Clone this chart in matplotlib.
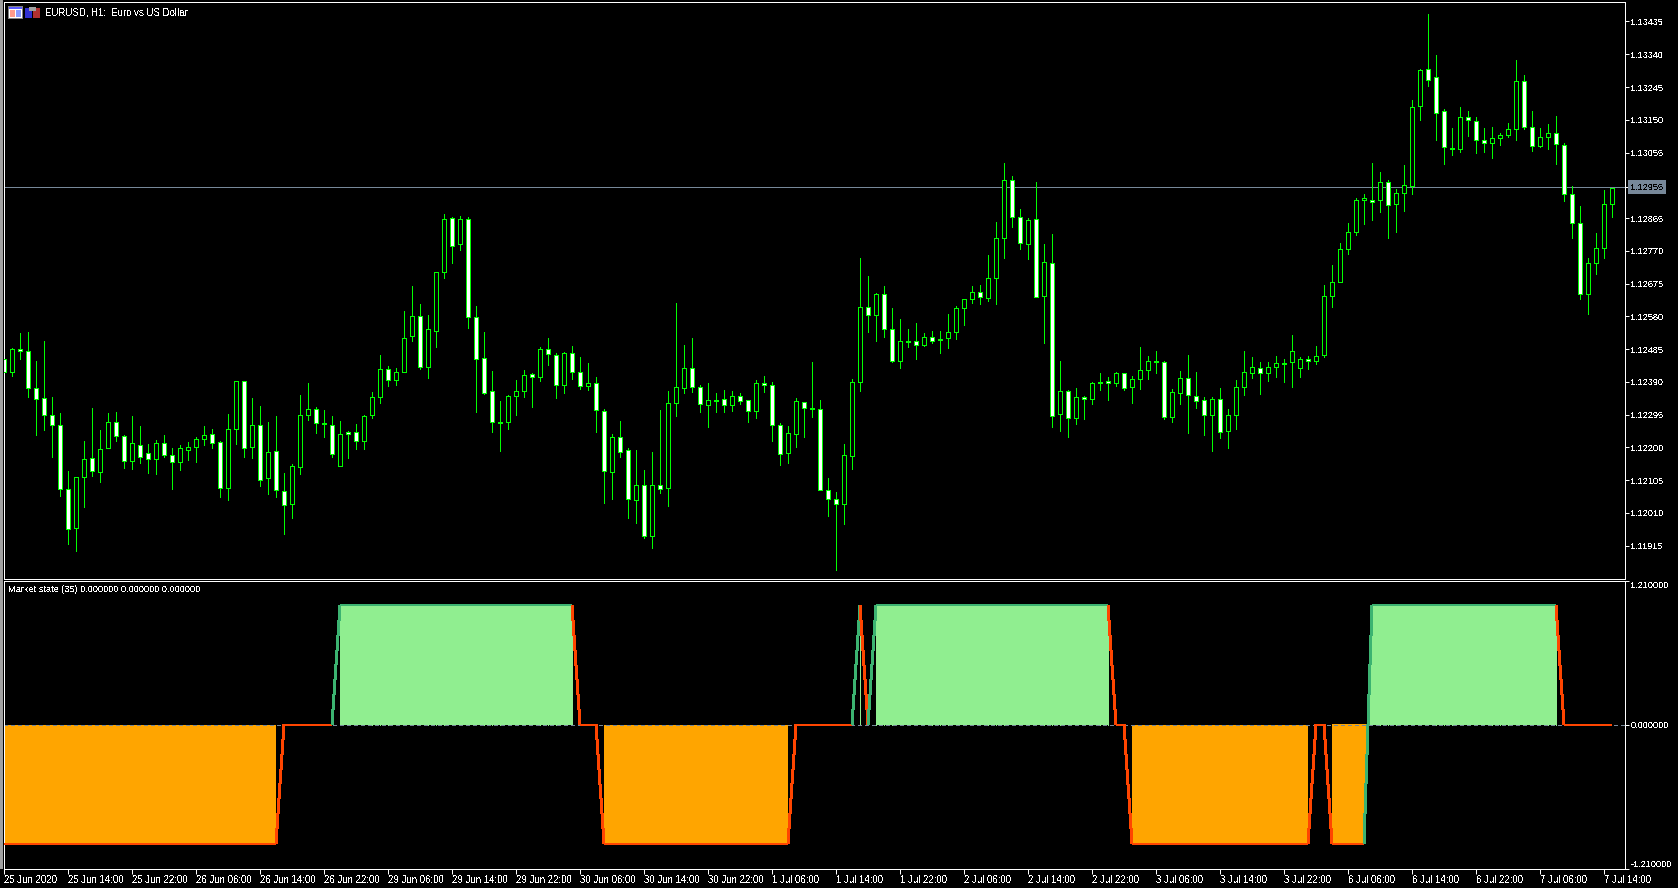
import numpy as np
from matplotlib import pyplot as plt
from matplotlib.collections import LineCollection
from matplotlib.patches import Rectangle

plt.rcParams["font.family"] = ["Liberation Sans", "DejaVu Sans"]
plt.rcParams["text.antialiased"] = False

W, H = 1678, 888
DPI = 100
FONT = 6.6
GREEN = "#00ff00"
SLATE = "#778899"

# prices are in points (1e-5) above 1.12000
BASE = 1.12
bid = 955

opens = [
    455, 420, 484, 479, 371, 342, 293, 264, 79, -34,
    113, 168, 128, 197, 273, 232, 160, 206, 183, 166,
    212, 177, 157, 192, 200, 224, 238, 215, 82, 253,
    392, 200, 264, 110, 189, 73, 35, 142, 293, 311,
    270, 264, 145, 244, 244, 218, 293, 345, 426, 395,
    418, 522, 580, 432, 539, 708, 864, 789, 861, 577,
    458, 363, 273, 273, 348, 363, 412, 403, 484, 467,
    380, 473, 418, 377, 386, 305, 128, 229, 192, 47,
    90, -58, 90, 82, 328, 371, 429, 374, 322, 337,
    339, 322, 348, 337, 305, 386, 380, 264, 183, 238,
    331, 313, 311, 76, 50, 35, 174, 389, 606, 583,
    644, 542, 450, 508, 508, 496, 519, 513, 516, 534,
    603, 629, 650, 632, 690, 806, 974, 867, 789, 861,
    638, 734, 296, 363, 284, 345, 339, 389, 392, 386,
    415, 374, 397, 424, 450, 447, 287, 357, 400, 348,
    337, 293, 339, 247, 293, 374, 415, 429, 415, 432,
    444, 447, 429, 455, 452, 467, 638, 681, 774, 826,
    916, 916, 916, 971, 905, 939, 957, 1191, 1296, 1273,
    1174, 1067, 1064, 1157, 1145, 1090, 1084, 1096, 1105, 1122,
    1261, 1128, 1073, 1099, 1113, 1078, 936, 852, 646, 736,
    777, 905,
]
highs = [
    455, 487, 531, 535, 450, 508, 345, 299, 131, 113,
    218, 313, 251, 299, 302, 235, 290, 262, 210, 221,
    235, 197, 206, 215, 229, 262, 253, 218, 296, 392,
    392, 342, 319, 273, 290, 125, 151, 351, 386, 316,
    308, 290, 276, 247, 267, 293, 360, 467, 435, 429,
    595, 668, 616, 583, 708, 877, 867, 870, 867, 609,
    534, 421, 334, 351, 395, 424, 415, 490, 516, 473,
    476, 493, 461, 444, 403, 311, 238, 276, 197, 192,
    134, 186, 308, 363, 618, 496, 516, 380, 386, 357,
    366, 363, 357, 337, 395, 406, 389, 270, 261, 342,
    331, 447, 337, 111, 70, 209, 397, 748, 696, 647,
    667, 603, 571, 542, 560, 531, 539, 539, 586, 609,
    629, 668, 670, 757, 855, 1026, 986, 890, 864, 971,
    789, 818, 450, 366, 371, 348, 389, 415, 403, 418,
    415, 406, 490, 464, 479, 450, 368, 421, 467, 418,
    345, 345, 371, 311, 395, 481, 461, 447, 447, 464,
    455, 525, 461, 464, 493, 671, 729, 794, 852, 922,
    934, 1026, 1000, 974, 948, 1018, 1206, 1296, 1456, 1339,
    1180, 1125, 1186, 1174, 1157, 1125, 1128, 1113, 1142, 1322,
    1281, 1174, 1125, 1139, 1160, 1084, 957, 899, 748, 821,
    945, 953,
]
lows = [
    420, 407, 456, 346, 236, 251, 172, 59, -80, -100,
    27, 117, 100, 197, 219, 140, 137, 155, 126, 123,
    172, 80, 135, 164, 158, 207, 198, 56, 48, 210,
    172, 169, 88, 65, 56, -51, -4, 123, 280, 242,
    230, 172, 145, 169, 196, 196, 285, 329, 378, 381,
    418, 509, 427, 401, 491, 691, 735, 772, 546, 303,
    355, 245, 190, 254, 294, 346, 317, 393, 439, 343,
    358, 398, 369, 367, 245, 39, 51, 172, -5, -19,
    -62, -91, 68, 30, 291, 358, 361, 303, 259, 303,
    303, 306, 326, 274, 285, 361, 219, 149, 155, 201,
    230, 288, 76, 1, -156, -22, 138, 364, 535, 508,
    520, 448, 430, 491, 456, 494, 503, 474, 488, 514,
    555, 619, 616, 624, 616, 749, 839, 775, 746, 635,
    503, 259, 248, 230, 268, 282, 326, 367, 338, 378,
    367, 329, 369, 398, 416, 282, 274, 326, 242, 314,
    236, 190, 227, 198, 254, 352, 401, 356, 393, 404,
    390, 375, 404, 427, 442, 463, 607, 681, 762, 816,
    848, 859, 882, 807, 824, 885, 935, 1149, 1248, 1091,
    1021, 1048, 1056, 1103, 1053, 1056, 1039, 1076, 1100, 1091,
    1123, 1059, 1071, 1065, 1021, 914, 807, 630, 587, 702,
    748, 867,
]
closes = [
    420, 484, 479, 371, 339, 293, 264, 79, -37, 113,
    166, 131, 195, 273, 232, 160, 212, 171, 166, 212,
    177, 157, 197, 200, 224, 235, 212, 82, 253, 392,
    197, 264, 105, 186, 76, 32, 145, 293, 311, 270,
    267, 180, 238, 238, 218, 290, 345, 426, 395, 418,
    516, 580, 432, 542, 708, 861, 783, 861, 577, 455,
    359, 273, 272, 348, 363, 409, 403, 484, 470, 380,
    473, 418, 377, 386, 308, 131, 229, 186, 50, 90,
    -58, 90, 79, 328, 374, 429, 374, 325, 337, 336,
    322, 348, 334, 305, 386, 380, 264, 180, 241, 334,
    313, 311, 76, 50, 35, 177, 389, 606, 583, 644,
    542, 452, 508, 507, 496, 519, 510, 511, 534, 603,
    629, 650, 635, 690, 806, 974, 867, 794, 858, 635,
    739, 290, 363, 284, 345, 339, 386, 386, 386, 415,
    371, 397, 424, 450, 447, 287, 360, 400, 351, 334,
    293, 339, 244, 293, 374, 418, 432, 415, 432, 444,
    443, 481, 455, 450, 464, 638, 681, 774, 826, 916,
    922, 913, 971, 902, 939, 960, 1186, 1293, 1264, 1171,
    1070, 1064, 1157, 1148, 1090, 1084, 1096, 1105, 1122, 1261,
    1128, 1073, 1099, 1113, 1081, 936, 852, 644, 736, 777,
    905, 953,
]

# indicator value per bar
state = [
    -1, -1, -1, -1, -1, -1, -1, -1, -1, -1,
    -1, -1, -1, -1, -1, -1, -1, -1, -1, -1,
    -1, -1, -1, -1, -1, -1, -1, -1, -1, -1,
    -1, -1, -1, -1, -1, 0, 0, 0, 0, 0,
    0, 0, 1, 1, 1, 1, 1, 1, 1, 1,
    1, 1, 1, 1, 1, 1, 1, 1, 1, 1,
    1, 1, 1, 1, 1, 1, 1, 1, 1, 1,
    1, 1, 0, 0, 0, -1, -1, -1, -1, -1,
    -1, -1, -1, -1, -1, -1, -1, -1, -1, -1,
    -1, -1, -1, -1, -1, -1, -1, -1, -1, 0,
    0, 0, 0, 0, 0, 0, 0, 1, 0, 1,
    1, 1, 1, 1, 1, 1, 1, 1, 1, 1,
    1, 1, 1, 1, 1, 1, 1, 1, 1, 1,
    1, 1, 1, 1, 1, 1, 1, 1, 1, 0,
    0, -1, -1, -1, -1, -1, -1, -1, -1, -1,
    -1, -1, -1, -1, -1, -1, -1, -1, -1, -1,
    -1, -1, -1, -1, 0, 0, -1, -1, -1, -1,
    -1, 1, 1, 1, 1, 1, 1, 1, 1, 1,
    1, 1, 1, 1, 1, 1, 1, 1, 1, 1,
    1, 1, 1, 1, 1, 0, 0, 0, 0, 0,
    0, 0,
]

price_ticks = [
    1.13435, 1.13340, 1.13245, 1.13150, 1.13055, 1.12865, 1.12770, 1.12675,
    1.12580, 1.12485, 1.12390, 1.12295, 1.12200, 1.12105, 1.12010, 1.11915,
]
time_labels = [
    "25 Jun 2020", "25 Jun 14:00", "25 Jun 22:00", "26 Jun 06:00", "26 Jun 14:00",
    "26 Jun 22:00", "29 Jun 06:00", "29 Jun 14:00", "29 Jun 22:00", "30 Jun 06:00",
    "30 Jun 14:00", "30 Jun 22:00", "1 Jul 06:00", "1 Jul 14:00", "1 Jul 22:00",
    "2 Jul 06:00", "2 Jul 14:00", "2 Jul 22:00", "3 Jul 06:00", "3 Jul 14:00",
    "3 Jul 22:00", "6 Jul 06:00", "6 Jul 14:00", "6 Jul 22:00", "7 Jul 06:00",
    "7 Jul 14:00",
]

assert len(opens) == len(highs) == len(lows) == len(closes) == len(state) == 202


def pane(left, top, right, bottom):
    ax = fig.add_axes(
        [left / W, 1 - bottom / H, (right - left) / W, (bottom - top) / H],
        facecolor="black",
    )
    for s in ax.spines.values():
        s.set_color("white")
        s.set_linewidth(0.72)
    ax.set_xlim(0, (right - left) / 8)
    return ax


fig = plt.figure(figsize=(W / DPI, H / DPI), dpi=DPI, facecolor="black")
ax_price = pane(4, 2.5, 1625, 578.5)
ax_state = pane(4, 580.5, 1625, 868.5)

x = np.arange(len(opens))
o = BASE + np.array(opens) * 1e-5
h = BASE + np.array(highs) * 1e-5
l = BASE + np.array(lows) * 1e-5
c = BASE + np.array(closes) * 1e-5
bid_price = BASE + bid * 1e-5

# price pane, ylim set so that 2.898 points make one pixel
ax_price.set_ylim(1.118200, 1.134900)
ax_price.axhline(bid_price, color=SLATE, lw=0.72, zorder=1, antialiased=False)
ax_price.vlines(x, l, h, color=GREEN, lw=0.72, zorder=2, antialiased=False)
ax_price.bar(
    x,
    np.abs(c - o),
    bottom=np.minimum(o, c),
    width=0.5,
    color=np.where(c > o, "black", "white"),
    edgecolor=GREEN,
    linewidth=0.72,
    antialiased=False,
    zorder=3,
)
ax_price.set_xticks([])
ax_price.yaxis.tick_right()
ax_price.set_yticks(price_ticks + [bid_price])
ax_price.set_yticklabels([f"{p:.5f}" for p in price_ticks] + [""])
ax_price.tick_params(
    axis="y", colors="white", length=2.88, width=0.72, pad=1, labelsize=FONT
)
ax_price.annotate(
    f"{bid_price:.5f}",
    xy=(1, bid_price),
    xycoords=ax_price.get_yaxis_transform(),
    xytext=(5.5, 0),
    textcoords="offset pixels",
    va="center",
    color="black",
    fontsize=FONT,
    bbox=dict(boxstyle="square,pad=0.3", fc=SLATE, ec="none"),
)

# indicator pane
s = np.array(state, dtype=float)
seg = np.stack([np.column_stack([x[:-1], s[:-1]]), np.column_stack([x[1:], s[1:]])], axis=1)
seg_colors = ["#3cb371" if v > 0 else "#ff4500" for v in s[1:]]

# the fill crosses zero only where the state flips straight from -1 to +1
flip = np.where(s[:-1] * s[1:] < 0)[0] + 1
xf = np.insert(x.astype(float), flip, x[flip] - 0.5)
sf = np.insert(s, flip, 0.0)
crossing = np.isin(np.arange(len(xf)), flip + np.arange(len(flip)))

ax_state.set_ylim(-1.21, 1.21)
ax_state.fill_between(xf, sf, 0, where=(sf < 0) | crossing, color="#ffa500", lw=0, antialiased=False, zorder=1)
ax_state.fill_between(xf, sf, 0, where=(sf > 0) | crossing, color="#90ee90", lw=0, antialiased=False, zorder=1)
ax_state.vlines(x[s > 0], 0, s[s > 0], color="#90ee90", lw=0.72, antialiased=False, zorder=1)
ax_state.axhline(0, color=SLATE, lw=0.72, ls=(0, (3, 3)), zorder=2, antialiased=False)
ax_state.add_collection(LineCollection(seg, colors=seg_colors, linewidths=1.44, antialiased=False, zorder=3))

ax_state.set_xticks(x[::8][: len(time_labels)])
ax_state.set_xticklabels(time_labels, ha="left")
ax_state.yaxis.tick_right()
ax_state.set_yticks([-1.21, 0, 1.21])
ax_state.set_yticklabels(["-1.210000", "0.000000", "1.210000"])
ax_state.tick_params(axis="x", colors="white", length=3.6, width=0.72, pad=1, labelsize=6.9)
ax_state.tick_params(axis="y", colors="white", length=2.88, width=0.72, pad=1, labelsize=FONT)
labels = ax_state.get_yticklabels()
labels[0].set_va("bottom")
labels[2].set_va("top")

# window furniture, in pixels of the picture
over = fig.add_axes([0, 0, 1, 1], zorder=5)
over.set_xlim(0, W)
over.set_ylim(H, 0)
over.axis("off")
over.patch.set_alpha(0)
over.add_patch(Rectangle((0, 0), 2.5, 869, fc="#a0a0a0", ec="none"))
icon_rects = [
    (8, 6, 15, 13, "#808080"), (9, 7, 13, 11, "#ffffff"), (9, 7, 13, 2, "#5a5aff"),
    (10, 10, 5, 7, "#ff9a8a"), (16, 10, 5, 7, "#8a9aff"),
    (25, 8, 7, 10, "#3030d0"), (33, 8, 7, 10, "#b03030"), (29, 7, 7, 4, "#a0a0a0"),
]
for ix, iy, iw, ih, col in icon_rects:
    over.add_patch(Rectangle((ix, iy), iw, ih, fc=col, ec="none", antialiased=False))
over.text(45, 12.5, "EURUSD, H1:  Euro vs US Dollar", color="white", fontsize=6.9, va="center")
over.text(7.5, 589.5, "Market state (35) 0.000000 0.000000 0.000000", color="white", fontsize=FONT, va="center")

fig.savefig("out.png", dpi=DPI, facecolor="black")
